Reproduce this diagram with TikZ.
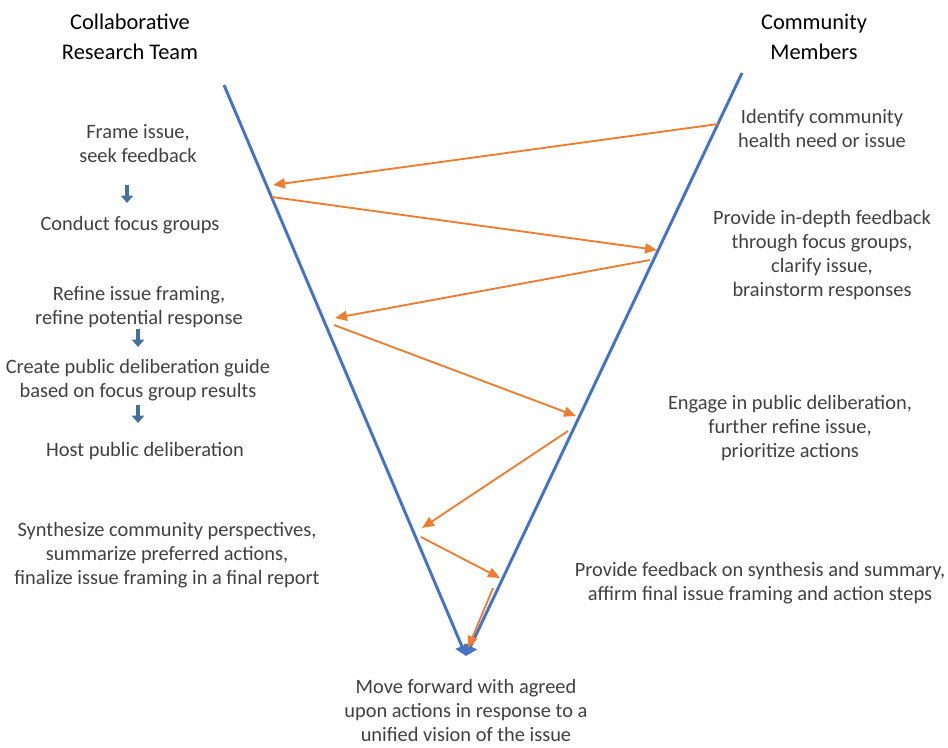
\documentclass[tikz,border=0pt]{standalone}
\usepackage{fontspec}
\setmainfont{Carlito}
\usetikzlibrary{arrows.meta}
\definecolor{vblue}{HTML}{4472C4}
\definecolor{flow}{HTML}{ED7D31}
\definecolor{stepblue}{HTML}{41719C}
\definecolor{txt}{HTML}{404040}
\begin{document}
\begin{tikzpicture}[x=0.75pt,y=-0.75pt,line join=round,font=\fontsize{15.3}{18}\selectfont,
	lbl/.style={align=center,text=txt,inner sep=0pt},
	head/.style={align=center,text=black,inner sep=0pt,font=\fontsize{16.8}{22.5}\selectfont},
	vee/.style={vblue,line width=2.2pt,-{Triangle[length=8pt,width=10pt]}},
	flowarr/.style={flow,line width=1.4pt,-{Triangle[length=9pt,width=7.5pt]}},
	down/.style={stepblue,line width=3.2pt,-{Triangle[length=5.5pt,width=9pt]}}]
	\useasboundingbox (0,0) rectangle (948,747);
	% the V
	\path
	(224,85) coordinate (L_top)
	(742,73) coordinate (R_top)
	(466,656) coordinate (V)
	;
	\draw[vee] (L_top)--(V);
	\draw[vee] (R_top)--(V);
	% headings
	\node[head] (team) at (130,37) {Collaborative\\Research Team};
	\node[head] (members) at (814,37) {Community\\Members};
	% team side
	\node[lbl] (frame) at (138,144) {Frame issue,\\seek feedback};
	\node[lbl] (focus) at (130,225) {Conduct focus groups};
	\node[lbl] (refine) at (139,307) {Refine issue framing,\\refine potential response};
	\node[lbl] (guide) at (138,380) {Create public deliberation guide\\based on focus group results};
	\node[lbl] (host) at (145,451) {Host public deliberation};
	\node[lbl] (synth) at (167,555) {Synthesize community perspectives,\\summarize preferred actions,\\finalize issue framing in a final report};
	% community side
	\node[lbl] (identify) at (822,128) {Identify community\\health need or issue};
	\node[lbl] (indepth) at (822,255) {Provide in-depth feedback\\through focus groups,\\clarify issue,\\brainstorm responses};
	\node[lbl] (engage) at (790,428) {Engage in public deliberation,\\further refine issue,\\prioritize actions};
	\node[lbl] (affirm) at (760,583) {Provide feedback on synthesis and summary,\\affirm final issue framing and action steps};
	% outcome
	\node[lbl] (forward) at (466,710) {Move forward with agreed\\upon actions in response to a\\unified vision of the issue};
	% small steps
	\draw[down] (127,185)--(127,203);
	\draw[down] (138,329)--(138,347);
	\draw[down] (138,405)--(138,423);
	% back and forth
	\path
	(718,124) coordinate (P_1) (273,185) coordinate (Q_1)
	(272,197) coordinate (P_2) (657,250) coordinate (Q_2)
	(650,260) coordinate (P_3) (335,318) coordinate (Q_3)
	(334,325) coordinate (P_4) (576,416) coordinate (Q_4)
	(568,431) coordinate (P_5) (422,528) coordinate (Q_5)
	(421,537) coordinate (P_6) (500,578) coordinate (Q_6)
	(493,588) coordinate (P_7) (468,648) coordinate (Q_7)
	;
	\foreach \i in {1,...,7} \draw[flowarr] (P_\i)--(Q_\i);
\end{tikzpicture}
\end{document}
